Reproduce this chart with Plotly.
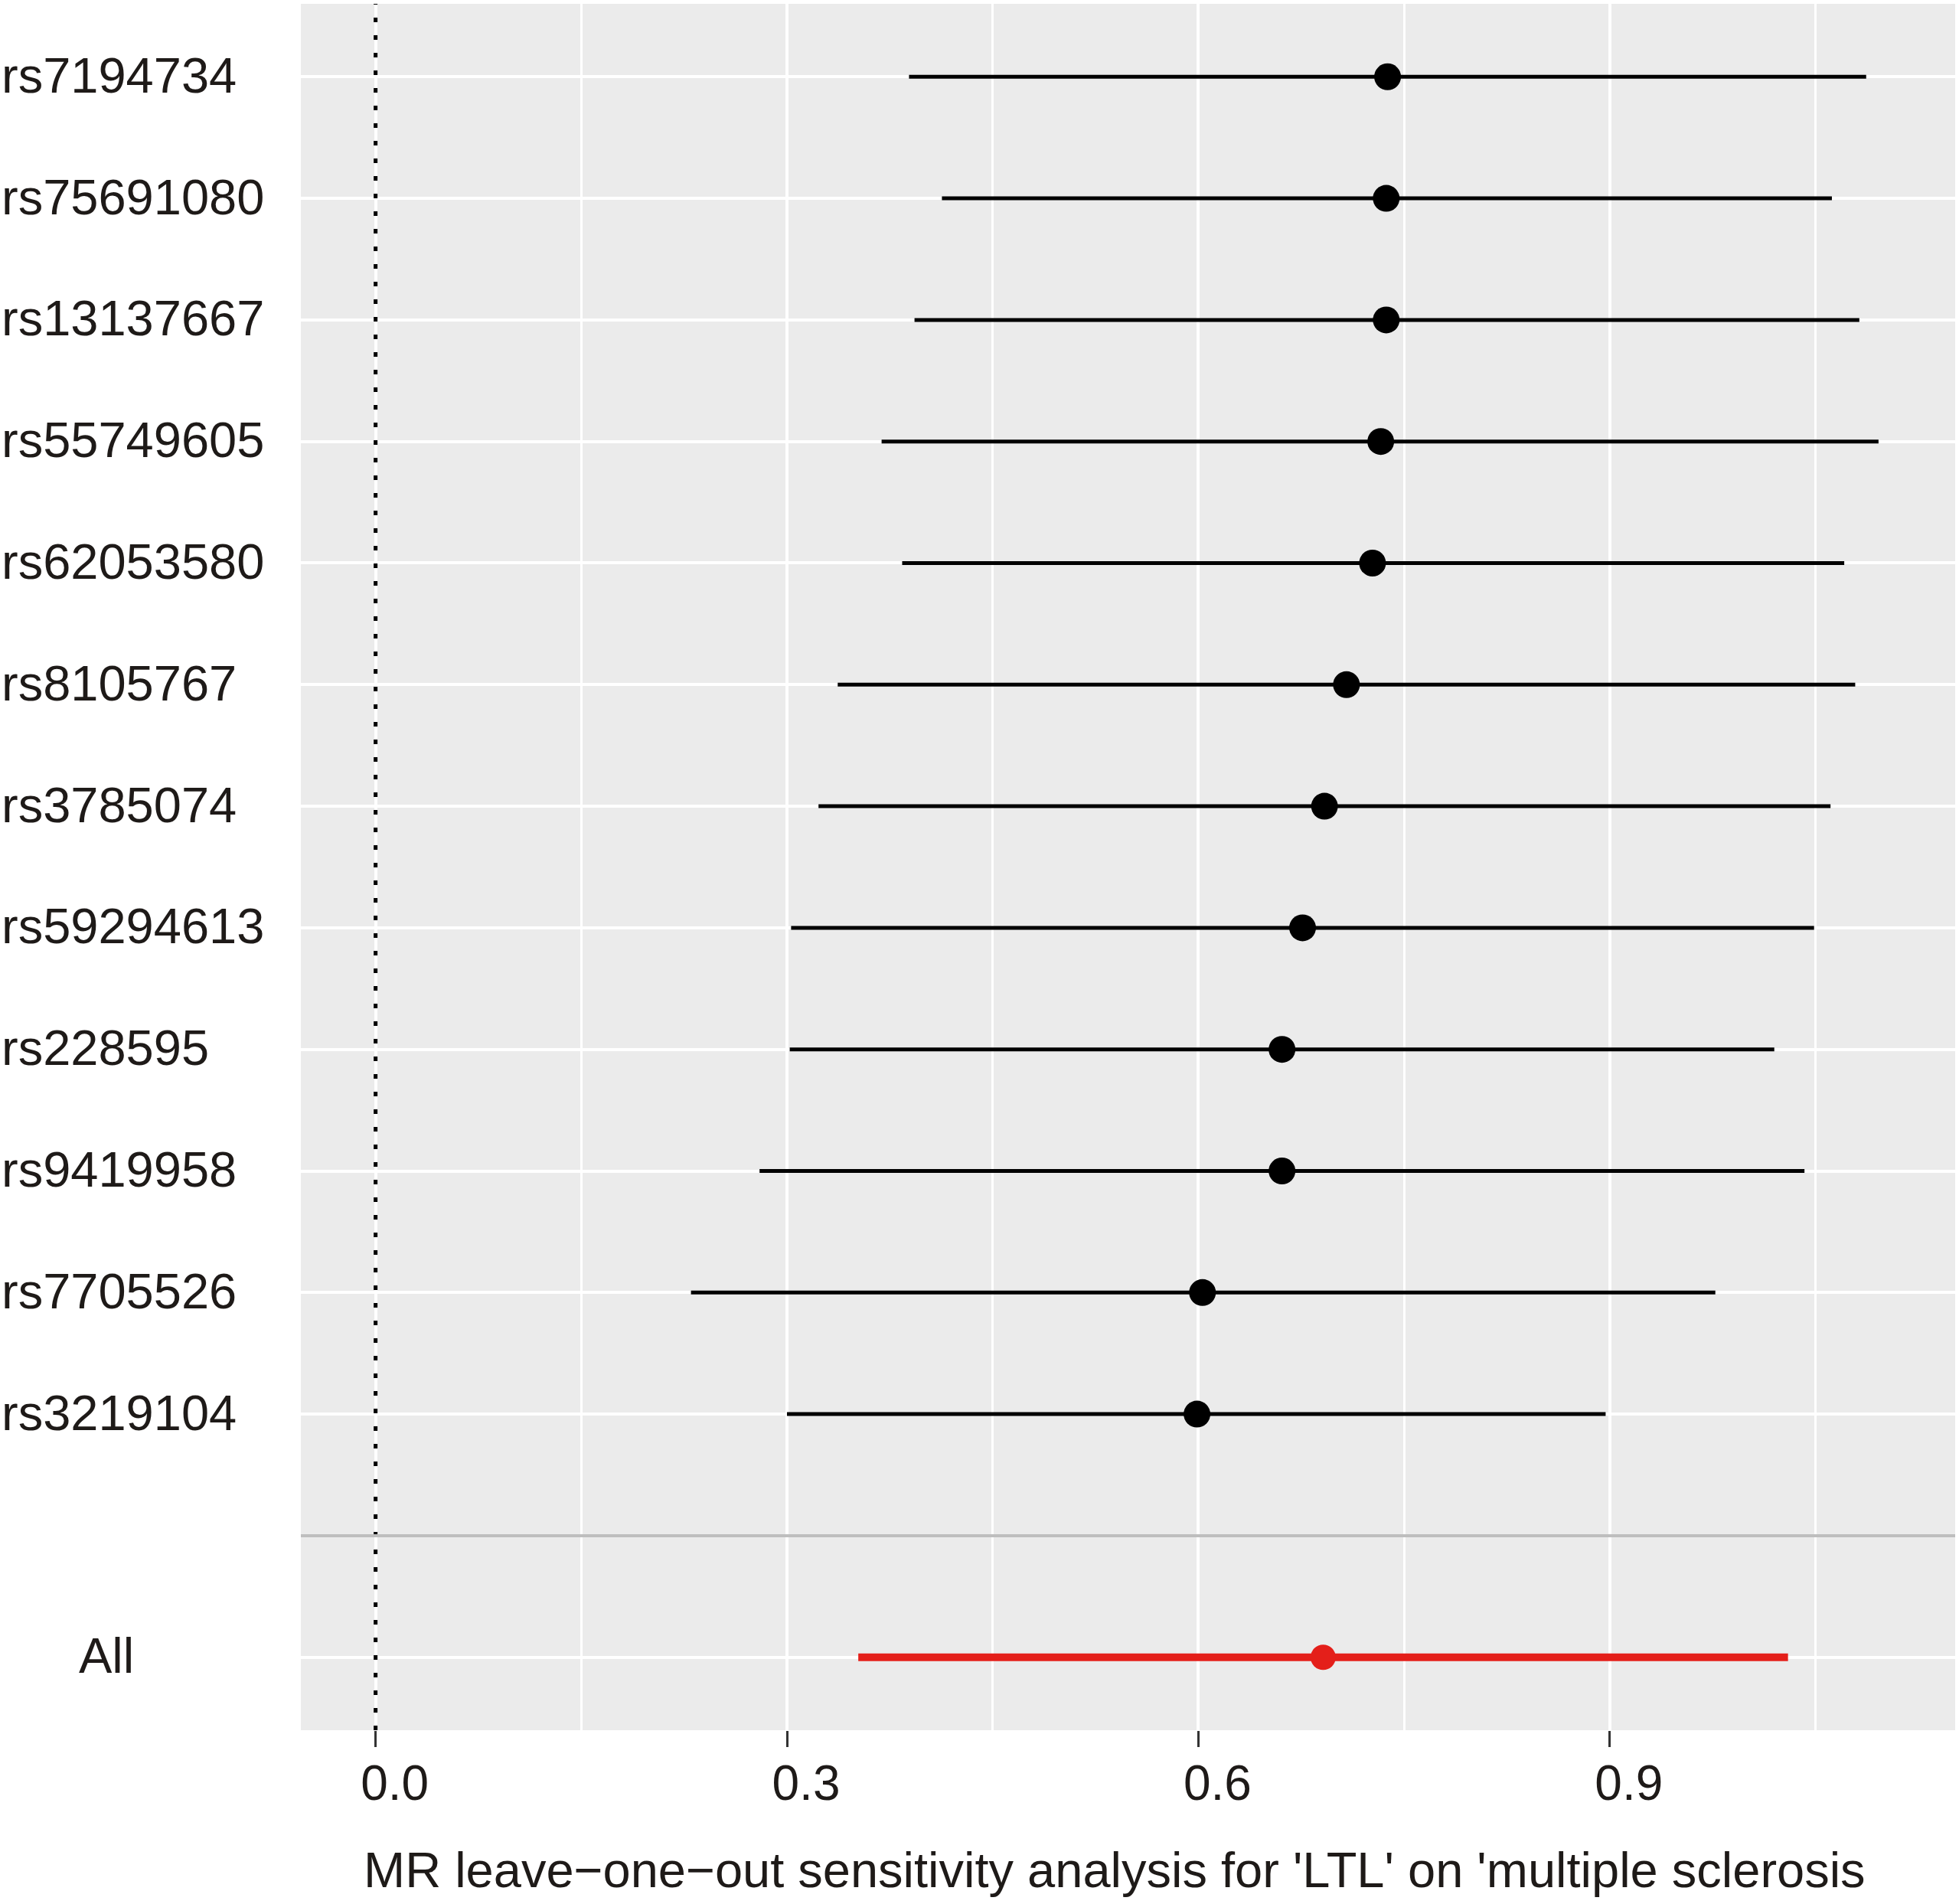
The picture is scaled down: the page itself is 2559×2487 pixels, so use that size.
import plotly.graph_objects as go

# ---- data ----
snps = ["rs7194734", "rs75691080", "rs13137667", "rs55749605", "rs62053580",
        "rs8105767", "rs3785074", "rs59294613", "rs228595", "rs9419958",
        "rs7705526", "rs3219104"]
b_est = [0.738, 0.737, 0.737, 0.733, 0.727, 0.708, 0.692, 0.676, 0.661, 0.661, 0.603, 0.599]
b_lo = [0.389, 0.413, 0.393, 0.369, 0.384, 0.337, 0.323, 0.303, 0.302, 0.280, 0.230, 0.300]
b_hi = [1.087, 1.062, 1.082, 1.096, 1.071, 1.079, 1.061, 1.049, 1.020, 1.042, 0.977, 0.897]

all_label = ["All"]
all_est = [0.691]
all_lo = [0.352]
all_hi = [1.030]

x_ticks = [0.0, 0.3, 0.6, 0.9]
x_ticktext = ["0.0", "0.3", "0.6", "0.9"]
x_minor = [0.15, 0.45, 0.75, 1.05]
x_title = "MR leave\u2212one\u2212out sensitivity analysis for 'LTL' on 'multiple sclerosis"

# category order top -> bottom (blank separator row before "All")
order = snps + [""] + all_label
n = len(order)
pos = {lab: n - i for i, lab in enumerate(order)}

snp_y = [pos[s] for s in snps]
all_y = [pos[s] for s in all_label]
blank_y = pos[""]

TXT = "#1e1a18"
FONT = "Liberation Sans, Arial, sans-serif"

fig = go.Figure()

fig.add_trace(go.Scatter(
    x=b_est, y=snp_y, mode="markers",
    marker=dict(color="black", size=35, line=dict(width=0)),
    error_x=dict(type="data", symmetric=False,
                 array=[h - e for h, e in zip(b_hi, b_est)],
                 arrayminus=[e - l for e, l in zip(b_est, b_lo)],
                 color="black", thickness=5, width=0),
    showlegend=False, hoverinfo="skip"))

fig.add_trace(go.Scatter(
    x=all_est, y=all_y, mode="markers",
    marker=dict(color="#E41F1A", size=33, line=dict(width=0)),
    error_x=dict(type="data", symmetric=False,
                 array=[h - e for h, e in zip(all_hi, all_est)],
                 arrayminus=[e - l for e, l in zip(all_est, all_lo)],
                 color="#E41F1A", thickness=10, width=0),
    showlegend=False, hoverinfo="skip"))

# vertical dotted line at zero
fig.add_shape(type="line", xref="x", yref="paper", x0=0, x1=0, y0=0, y1=1,
              line=dict(color="black", width=5, dash="6px,17px"), layer="above")
# grey separator line at blank row
fig.add_shape(type="line", xref="paper", yref="y", x0=0, x1=1, y0=blank_y, y1=blank_y,
              line=dict(color="#BEBEBE", width=4), layer="above")

# y labels (left aligned, as in reference)
label_x = {lab: -0.1819 for lab in snps}
label_x["All"] = -0.1351
for lab in snps + all_label:
    fig.add_annotation(x=label_x[lab], xref="paper", y=pos[lab], yref="y",
                       text=lab, showarrow=False, xanchor="left", yanchor="middle",
                       yshift=2, font=dict(size=65, color=TXT, family=FONT))

# x title
fig.add_annotation(x=0.492, xref="paper", y=-0.081, yref="paper", text=x_title,
                   showarrow=False, xanchor="center", yanchor="middle",
                   font=dict(size=65, color=TXT, family=FONT))

fig.update_layout(
    width=2559, height=2487,
    margin=dict(l=393, r=5, t=5, b=227),
    paper_bgcolor="white", plot_bgcolor="#EBEBEB",
    font=dict(family=FONT, color=TXT),
    showlegend=False,
)
fig.update_xaxes(
    range=[-0.0545, 1.1519], tickvals=x_ticks, ticktext=x_ticktext,
    ticks="outside", ticklen=21, tickwidth=3, tickcolor="#333333",
    tickfont=dict(size=64, color=TXT, family=FONT), ticklabelshift=25,
    ticklabelstandoff=-8,
    showgrid=True, gridcolor="white", gridwidth=4, zeroline=False, showline=False,
    minor=dict(tickvals=x_minor, showgrid=True, gridcolor="white", gridwidth=2.5, ticks=""),
)
fig.update_yaxes(
    range=[0.4, n + 0.6], tickvals=list(range(1, n + 1)), showticklabels=False,
    ticks="", showgrid=True, gridcolor="white", gridwidth=4, zeroline=False, showline=False,
)

fig.write_html("out.html", config={"displayModeBar": False},
               post_script="document.body.style.margin='0';document.body.style.overflow='hidden';")
